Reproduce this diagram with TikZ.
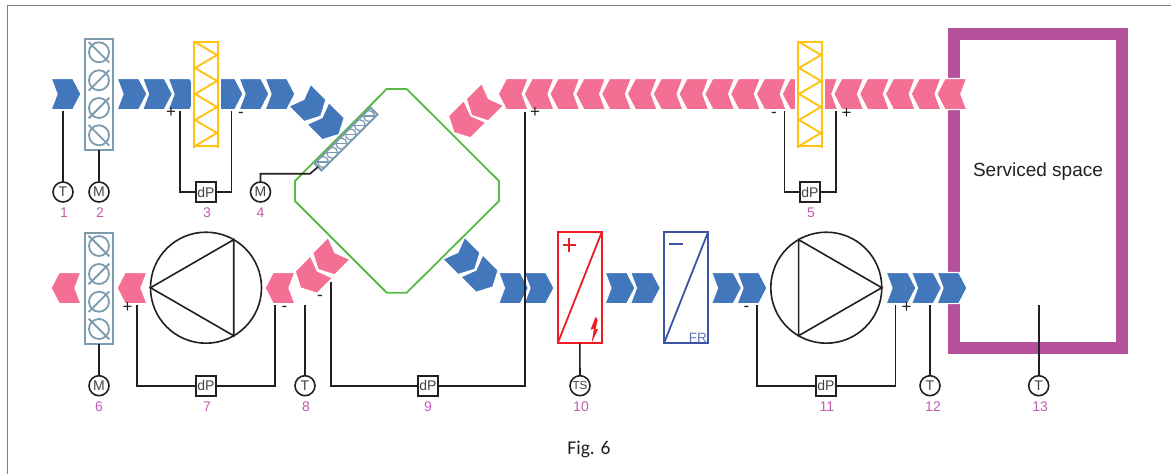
\documentclass[tikz,border=0pt]{standalone}
\usepackage{fontspec}
\setmainfont{Liberation Sans}
\newfontfamily\figfont{Carlito}
\usetikzlibrary{positioning}
\definecolor{airblue}{HTML}{4377BB}
\definecolor{airpink}{HTML}{F36F93}
\definecolor{steel}{HTML}{7C9BAE}
\definecolor{filteryellow}{HTML}{FFC20E}
\definecolor{hxgreen}{HTML}{59B947}
\definecolor{roomviolet}{HTML}{B5519B}
\definecolor{numviolet}{HTML}{C45BB0}
\definecolor{heatred}{HTML}{ED1C24}
\definecolor{coolblue}{HTML}{3A55A4}
\definecolor{inkgrey}{HTML}{231F20}
\begin{document}
\begin{tikzpicture}[
		x=1pt, y=-1pt,
		% air arrows
		supplyair/.style={fill=airblue, draw=white, line width=1.2pt},
		extractair/.style={fill=airpink, draw=white, line width=1.2pt},
		pics/chevron/.style={code={
			\path[#1] (-14.9,-15.6) -- (6.9,-15.6) -- (15,0) -- (6.9,15.6) -- (-14.9,15.6) -- (-9,0) -- cycle;
		}},
		% filter with white gap in the duct
		pics/airfilter/.style={code={
			\fill[white] (-15,-17) rectangle (15,17);
			\draw[filteryellow, line width=1.9pt] (-12,-53.5) -- (-12,53.5) (12,-53.5) -- (12,53.5) (-12,-52) -- (12,-52) (-12,52) -- (12,52);
			\draw[filteryellow, line width=1.9pt] (-11,-52) -- (11,-39) -- (-11,-26) -- (11,-13) -- (-11,0) -- (11,13) -- (-11,26) -- (11,39) -- (-11,52);
		}},
		pics/damperdiscs/.style={code={
			\foreach \yy/\ss in {-42/1,-14/-1,13.7/-1,41/1} {
				\draw[steel, line width=1.8pt] (0,\yy) circle [radius=10];
				\draw[steel, line width=1.8pt] (-10.3,\yy-10.3*\ss) -- (10.3,\yy+10.3*\ss);
			}
		}},
		damperbox/.style={rectangle, draw=steel, line width=2pt, minimum width=28pt, minimum height=111pt, inner sep=0pt, outer sep=0pt},
		sensor/.style={circle, draw=inkgrey, fill=white, line width=1.6pt, minimum size=20pt, inner sep=0pt, outer sep=0pt, font=\fontsize{14}{14}\selectfont, text=inkgrey!85},
		dpbox/.style={rectangle, draw=inkgrey, fill=white, line width=1.6pt, minimum size=20pt, inner sep=0pt, outer sep=0pt, font=\fontsize{14}{14}\selectfont, text=inkgrey!85},
		fan/.style={circle, draw=inkgrey, line width=1.6pt, minimum size=111pt, inner sep=0pt, outer sep=0pt},
		coilbox/.style={rectangle, line width=1.8pt, minimum width=44pt, minimum height=111pt, inner sep=0pt, outer sep=0pt},
		numlabel/.style={text=numviolet, inner sep=0pt, font=\fontsize{14}{14}\selectfont},
		signlabel/.style={text=inkgrey, inner sep=0pt, font=\fontsize{17}{17}\selectfont},
		wire/.style={draw=inkgrey, line width=1.6pt}
	]
	\useasboundingbox (0,0) rectangle (1171,474);

	% outer frame
	\coordinate (frameleft)   at (7,474);
	\coordinate (framecorner) at (7,5.5);
	\coordinate (frameright)  at (1171,5.5);
	\draw[gray, line width=1pt] (frameleft) -- (framecorner) -- (frameright);

	% room
	\node[rectangle, draw=roomviolet, line width=12pt, minimum width=168pt, minimum height=314pt, inner sep=0pt] (room) at (1038,191) {};
	\node[inner sep=0pt, text=inkgrey, font=\fontsize{19}{19}\selectfont] (roomtext) at (1038,172) {Serviced space};

	% ducts
	\foreach \xx in {66,132,157.5,183,228,254,280}
		\pic at (\xx,94) {chevron=supplyair};
	\pic[rotate=-45] at (310.2,105.7) {chevron=supplyair};
	\pic[rotate=-45] at (328.4,123.9) {chevron=supplyair};
	\foreach \k in {0,...,17}
		\pic[rotate=180] at ({513.25+25.8*\k},94) {chevron=extractair};
	\pic[rotate=-135] at (464.4,122) {chevron=extractair};
	\pic[rotate=-135] at (482.2,105) {chevron=extractair};
	\foreach \xx in {66,132,280}
		\pic[rotate=180] at (\xx,288) {chevron=extractair};
	\pic[rotate=-135] at (311,277.4) {chevron=extractair};
	\pic[rotate=-135] at (328.6,259) {chevron=extractair};
	\pic[rotate=-45] at (464.2,258.7) {chevron=supplyair};
	\pic[rotate=-45] at (482.3,276.4) {chevron=supplyair};
	\foreach \xx in {513.5,539,620,645.4,726.5,752,901,926.5,952}
		\pic at (\xx,288) {chevron=supplyair};

	% heat exchanger
	\draw[hxgreen, line width=1.8pt] (386.7,89) -- (406.7,89) -- (499,181) -- (499,201) -- (406.7,292.7) -- (386.7,292.7) -- (295,201) -- (295,181) -- cycle;
	\node[rectangle, rotate=45, draw=steel, line width=2pt, minimum width=79pt, minimum height=10pt, inner sep=0pt, outer sep=0pt] (bypass4) at (346,139) {};
	\begin{scope}[shift={(346,139)}, rotate=45]
		\foreach \xx in {-32.5,-19.5,-6.5,6.5,19.5,32.5} {
			\draw[steel, line width=1.2pt] (\xx,0) circle [radius=5.5];
			\draw[steel, line width=1.2pt] (\xx-5,-5) -- (\xx+5,5);
		}
	\end{scope}

	% dampers and filters
	\node[damperbox] (damper2) at (99,94.3) {};
	\pic at (99,94.3) {damperdiscs};
	\node[damperbox] (damper6) at (99,288) {};
	\pic at (99,288) {damperdiscs};
	\pic at (206,94) {airfilter};
	\pic at (810,94) {airfilter};

	% fans
	\node[fan] (fan7)  at (206,287.7) {};
	\draw[wire] (fan7.west) -- (fan7.60) -- (fan7.-60) -- cycle;
	\node[fan] (fan11) at (826.3,287.7) {};
	\draw[wire] (fan11.east) -- (fan11.120) -- (fan11.-120) -- cycle;

	% coils
	\node[coilbox, draw=heatred]  (heater10) at (579.7,287.8) {};
	\draw[heatred, line width=1.8pt] (heater10.south west) -- (heater10.north east);
	\draw[heatred, line width=2.2pt] (562.5,244.7) -- (576,244.7) (569.2,238) -- (569.2,251.5);
	\fill[heatred, draw=heatred, line width=.5pt] (595.7,317.3) -- (591,329.3) -- (594.3,328.3) -- (592.3,340.7) -- (597.7,329.3) -- (595,330) -- (597.3,320) -- cycle;
	\node[coilbox, draw=coolblue] (cooler) at (686,287.8) {};
	\draw[coolblue, line width=1.8pt] (cooler.south west) -- (cooler.north east);
	\draw[coolblue, line width=2.2pt] (669,244) -- (682.5,244);
	\node[anchor=south east, inner sep=1pt, text=coolblue!80, font=\fontsize{13.5}{13.5}\selectfont] (frtext) at (cooler.south east) {FR};

	% instruments
	\node[sensor] (t1)  at (63,192)      {T};
	\node[sensor] (m2)  at (99,192)      {M};
	\node[dpbox]  (dp3) at (206,192)     {dP};
	\node[sensor] (m4)  at (260.5,192)   {M};
	\node[dpbox]  (dp5) at (810,192)     {dP};
	\node[sensor] (m6)  at (99,385.7)    {M};
	\node[dpbox]  (dp7) at (206,385.7)   {dP};
	\node[sensor] (t8)  at (305,385.7)   {T};
	\node[dpbox]  (dp9) at (428,385.7)   {dP};
	\node[sensor, font=\fontsize{11.7}{11.7}\selectfont] (ts10) at (580,385.7) {TS};
	\node[dpbox]  (dp11) at (826,385.7)  {dP};
	\node[sensor] (t12) at (930,385.7)   {T};
	\node[sensor] (t13) at (1038.7,385.7) {T};

	% numbers
	\node[numlabel, below=6pt of t1, xshift=1pt]      (num1)  {1};
	\node[numlabel, below=6pt of m2, xshift=1pt]      (num2)  {2};
	\node[numlabel, below=6pt of dp3, xshift=1pt]     (num3)  {3};
	\node[numlabel, below=6pt of m4]                  (num4)  {4};
	\node[numlabel, below=6pt of dp5, xshift=1pt]     (num5)  {5};
	\node[numlabel, below=6pt of m6]                  (num6)  {6};
	\node[numlabel, below=6pt of dp7, xshift=1pt]     (num7)  {7};
	\node[numlabel, below=6pt of t8, xshift=1pt]      (num8)  {8};
	\node[numlabel, below=6pt of dp9]                 (num9)  {9};
	\node[numlabel, below=6pt of ts10, xshift=1pt]    (num10) {10};
	\node[numlabel, below=6pt of dp11, xshift=1pt]    (num11) {11};
	\node[numlabel, below=6pt of t12, xshift=3pt]     (num12) {12};
	\node[numlabel, below=6pt of t13, xshift=1.5pt]   (num13) {13};

	% free ends of the tubes
	\coordinate (end1)   at (63,111);
	\coordinate (end3a)  at (180,111);
	\coordinate (end3b)  at (231.5,111);
	\coordinate (bend4)  at (310,173.7);
	\coordinate (end5a)  at (784.3,111);
	\coordinate (end5b)  at (836,111);
	\coordinate (end7a)  at (136.7,305);
	\coordinate (end7b)  at (275,305);
	\coordinate (end8)   at (305,305);
	\coordinate (end9a)  at (331,281.7);
	\coordinate (end9b)  at (525,111.7);
	\coordinate (end11a) at (757,305);
	\coordinate (end11b) at (895.3,305);
	\coordinate (end12)  at (930,305);
	\coordinate (end13)  at (1038.7,305);

	%Lines
	\draw[wire] (end1)        --  (t1);
	\draw[wire] (damper2)     --  (m2);
	\draw[wire] (end3a)       |-  (dp3);
	\draw[wire] (end3b)       |-  (dp3);
	\draw[wire] (m4)          |-  (bend4) -- (bypass4.west);
	\draw[wire] (end5a)       |-  (dp5);
	\draw[wire] (end5b)       |-  (dp5);
	\draw[wire] (damper6)     --  (m6);
	\draw[wire] (end7a)       |-  (dp7);
	\draw[wire] (end7b)       |-  (dp7);
	\draw[wire] (end8)        --  (t8);
	\draw[wire] (end9a)       |-  (dp9);
	\draw[wire] (end9b)       |-  (dp9);
	\draw[wire] (heater10)    --  (ts10);
	\draw[wire] (end11a)      |-  (dp11);
	\draw[wire] (end11b)      |-  (dp11);
	\draw[wire] (end12)       --  (t12);
	\draw[wire] (end13)       --  (t13);

	% pressure signs
	\node[signlabel] (sign3a)  at (171,113)     {+};
	\node[signlabel] (sign3b)  at (241,114.5)   {-};
	\node[signlabel] (sign5a)  at (774,115)     {-};
	\node[signlabel] (sign5b)  at (846.7,114)   {+};
	\node[signlabel] (sign7a)  at (127.5,308)   {+};
	\node[signlabel] (sign7b)  at (284.5,309)   {-};
	\node[signlabel] (sign9a)  at (320,298)     {-};
	\node[signlabel] (sign9b)  at (535,113)     {+};
	\node[signlabel] (sign11a) at (746.5,309)   {-};
	\node[signlabel] (sign11b) at (906.5,307.7) {+};

	\node[inner sep=0pt, text=inkgrey, font=\figfont\fontsize{19.5}{19.5}\selectfont] (figtext) at (589,449) {Fig. 6};
\end{tikzpicture}
\end{document}
